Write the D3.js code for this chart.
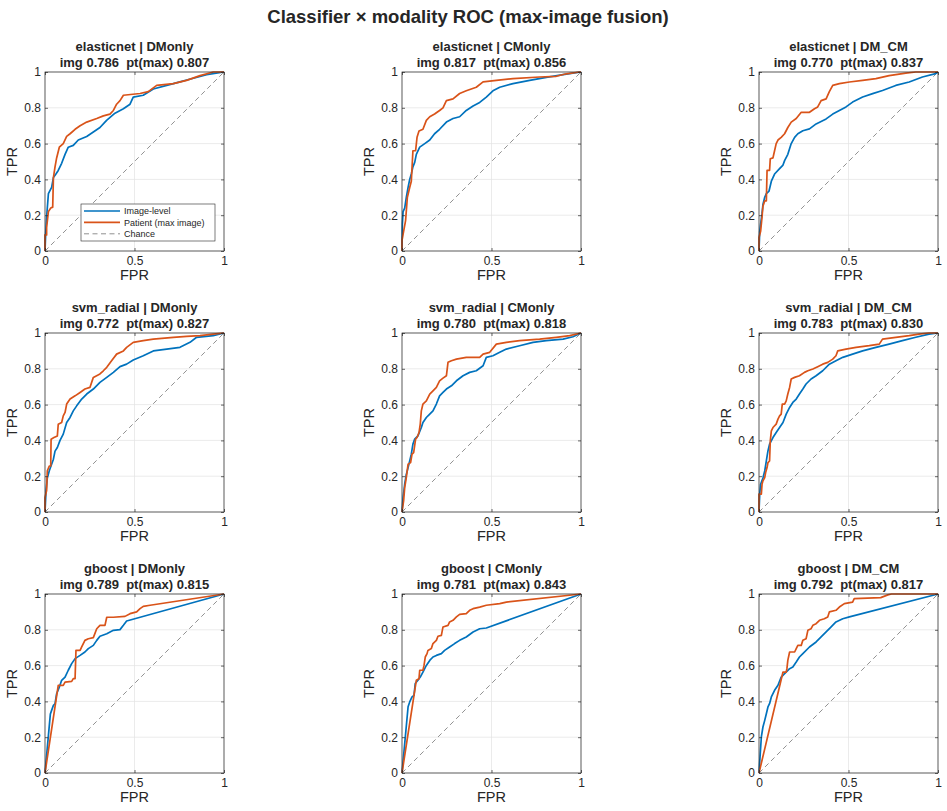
<!DOCTYPE html>
<html>
<head>
<meta charset="utf-8">
<script src="https://cdn.jsdelivr.net/npm/d3@7"></script>
<style>
  body { margin: 0; background: #fff; }
  text { font-family: "Liberation Sans", Arial, Helvetica, sans-serif; fill: #262626; }
</style>
</head>
<body>
<svg id="chart" width="947" height="811"></svg>
<script>
// ---- data ----
const classifiers = ["elasticnet", "svm_radial", "gboost"];
const modalities = ["DMonly", "CMonly", "DM_CM"];
const aucImg = [[0.786, 0.817, 0.770], [0.772, 0.780, 0.783], [0.789, 0.781, 0.792]];
const aucPt = [[0.807, 0.856, 0.837], [0.827, 0.818, 0.830], [0.815, 0.843, 0.817]];
const xTicks = [0, 0.5, 1];
const yTicks = [0, 0.2, 0.4, 0.6, 0.8, 1];
const legendLabels = ["Image-level", "Patient (max image)", "Chance"];

// ROC points [FPR, TPR]
const enDM_img = [[0,0],[0.004,0.1],[0.009,0.19],[0.019,0.32],[0.037,0.355],[0.047,0.41],[0.061,0.43],[0.074,0.45],[0.093,0.49],[0.112,0.54],[0.13,0.58],[0.158,0.59],[0.186,0.62],[0.233,0.64],[0.27,0.665],[0.307,0.69],[0.344,0.73],[0.391,0.77],[0.438,0.795],[0.475,0.82],[0.493,0.86],[0.549,0.87],[0.605,0.905],[0.68,0.925],[0.754,0.945],[0.829,0.965],[0.903,0.985],[1,1]];
const enDM_pt = [[0,0],[0,0.09],[0.009,0.09],[0.009,0.13],[0.019,0.22],[0.032,0.24],[0.043,0.245],[0.047,0.41],[0.056,0.47],[0.065,0.52],[0.08,0.58],[0.102,0.6],[0.121,0.64],[0.14,0.655],[0.168,0.68],[0.196,0.7],[0.233,0.72],[0.289,0.74],[0.326,0.755],[0.363,0.765],[0.382,0.785],[0.4,0.82],[0.419,0.84],[0.438,0.87],[0.531,0.88],[0.577,0.89],[0.624,0.925],[0.717,0.935],[0.791,0.953],[0.866,0.98],[0.94,1],[1,1]];
const enCM_img = [[0,0],[0.002,0.15],[0.006,0.22],[0.015,0.24],[0.024,0.3],[0.034,0.355],[0.043,0.4],[0.052,0.43],[0.061,0.47],[0.071,0.495],[0.08,0.54],[0.099,0.58],[0.127,0.6],[0.155,0.62],[0.182,0.655],[0.21,0.68],[0.248,0.72],[0.285,0.74],[0.322,0.75],[0.359,0.785],[0.397,0.81],[0.434,0.83],[0.471,0.86],[0.508,0.895],[0.546,0.915],[0.62,0.935],[0.713,0.953],[0.806,0.97],[0.9,0.985],[1,1]];
const enCM_pt = [[0,0],[0,0.06],[0.009,0.11],[0.02,0.17],[0.03,0.3],[0.043,0.355],[0.052,0.39],[0.061,0.56],[0.076,0.56],[0.084,0.635],[0.095,0.67],[0.117,0.68],[0.136,0.73],[0.155,0.75],[0.182,0.765],[0.21,0.785],[0.229,0.8],[0.248,0.84],[0.285,0.85],[0.322,0.88],[0.359,0.895],[0.415,0.915],[0.453,0.945],[0.527,0.953],[0.62,0.963],[0.769,0.972],[0.862,0.976],[0.918,0.99],[0.993,1],[1,1]];
const enDMCM_img = [[0,0],[0.004,0.11],[0.009,0.15],[0.017,0.21],[0.022,0.26],[0.032,0.3],[0.041,0.32],[0.056,0.335],[0.069,0.39],[0.078,0.41],[0.087,0.43],[0.115,0.46],[0.134,0.48],[0.143,0.505],[0.161,0.54],[0.18,0.6],[0.199,0.635],[0.217,0.655],[0.245,0.672],[0.282,0.682],[0.319,0.71],[0.375,0.738],[0.412,0.765],[0.449,0.785],[0.486,0.805],[0.523,0.832],[0.579,0.86],[0.635,0.879],[0.69,0.897],[0.764,0.925],[0.839,0.944],[0.913,0.972],[0.987,0.991],[1,1]];
const enDMCM_pt = [[0,0],[0,0.075],[0.009,0.11],[0.017,0.19],[0.022,0.25],[0.032,0.28],[0.041,0.28],[0.045,0.45],[0.059,0.45],[0.063,0.515],[0.078,0.52],[0.087,0.56],[0.096,0.6],[0.106,0.62],[0.124,0.635],[0.143,0.655],[0.161,0.69],[0.18,0.72],[0.208,0.74],[0.236,0.775],[0.282,0.775],[0.31,0.795],[0.328,0.805],[0.347,0.84],[0.375,0.85],[0.393,0.89],[0.412,0.925],[0.449,0.935],[0.505,0.944],[0.579,0.953],[0.653,0.963],[0.727,0.98],[0.82,0.994],[0.876,1],[1,1]];
const svDM_img = [[0,0],[0.006,0.12],[0.013,0.19],[0.024,0.23],[0.037,0.267],[0.047,0.295],[0.056,0.34],[0.069,0.36],[0.084,0.4],[0.102,0.435],[0.121,0.5],[0.14,0.528],[0.158,0.565],[0.177,0.593],[0.205,0.631],[0.233,0.659],[0.27,0.687],[0.307,0.724],[0.345,0.752],[0.382,0.78],[0.419,0.812],[0.456,0.826],[0.493,0.849],[0.549,0.873],[0.605,0.9],[0.68,0.91],[0.754,0.92],[0.81,0.948],[0.847,0.976],[0.94,0.985],[1,1]];
const svDM_pt = [[0,0],[0,0.08],[0.009,0.12],[0.013,0.23],[0.024,0.257],[0.032,0.257],[0.034,0.407],[0.05,0.416],[0.069,0.425],[0.074,0.49],[0.093,0.5],[0.102,0.537],[0.112,0.556],[0.121,0.603],[0.14,0.631],[0.168,0.649],[0.196,0.668],[0.223,0.687],[0.251,0.696],[0.27,0.752],[0.307,0.771],[0.326,0.789],[0.345,0.808],[0.372,0.845],[0.4,0.882],[0.438,0.9],[0.456,0.92],[0.493,0.948],[0.549,0.957],[0.605,0.966],[0.717,0.976],[0.791,0.981],[0.866,0.985],[0.94,0.994],[1,1]];
const svCM_img = [[0,0],[0.006,0.08],[0.015,0.155],[0.024,0.21],[0.034,0.248],[0.043,0.285],[0.052,0.323],[0.061,0.379],[0.071,0.407],[0.089,0.425],[0.108,0.472],[0.117,0.5],[0.136,0.528],[0.155,0.547],[0.173,0.565],[0.192,0.603],[0.21,0.649],[0.229,0.668],[0.248,0.687],[0.276,0.705],[0.304,0.733],[0.341,0.761],[0.378,0.78],[0.415,0.789],[0.453,0.817],[0.471,0.864],[0.508,0.873],[0.546,0.892],[0.583,0.91],[0.657,0.929],[0.732,0.948],[0.806,0.957],[0.9,0.966],[0.955,0.979],[1,1]];
const svCM_pt = [[0,0],[0.009,0.062],[0.015,0.136],[0.024,0.192],[0.034,0.267],[0.048,0.276],[0.056,0.323],[0.065,0.332],[0.076,0.407],[0.084,0.416],[0.095,0.444],[0.102,0.491],[0.108,0.565],[0.117,0.603],[0.136,0.621],[0.155,0.659],[0.173,0.677],[0.192,0.696],[0.21,0.733],[0.229,0.748],[0.248,0.761],[0.257,0.836],[0.276,0.845],[0.304,0.854],[0.359,0.864],[0.434,0.864],[0.453,0.882],[0.49,0.892],[0.527,0.938],[0.583,0.948],[0.657,0.957],[0.769,0.966],[0.862,0.976],[0.937,0.985],[1,1]];
const svDMCM_img = [[0,0],[0.004,0.1],[0.009,0.155],[0.022,0.19],[0.032,0.229],[0.041,0.285],[0.05,0.341],[0.059,0.379],[0.078,0.416],[0.096,0.444],[0.115,0.472],[0.134,0.5],[0.152,0.547],[0.171,0.584],[0.189,0.612],[0.208,0.631],[0.226,0.659],[0.245,0.687],[0.263,0.715],[0.291,0.743],[0.319,0.761],[0.356,0.789],[0.393,0.826],[0.43,0.845],[0.468,0.864],[0.523,0.882],[0.579,0.9],[0.653,0.92],[0.727,0.938],[0.801,0.957],[0.876,0.976],[0.95,0.994],[1,1]];
const svDMCM_pt = [[0,0],[0,0.1],[0.013,0.1],[0.017,0.155],[0.022,0.174],[0.032,0.192],[0.037,0.22],[0.045,0.248],[0.05,0.276],[0.059,0.285],[0.063,0.397],[0.069,0.453],[0.078,0.472],[0.096,0.491],[0.106,0.519],[0.115,0.537],[0.124,0.547],[0.13,0.603],[0.143,0.603],[0.152,0.621],[0.161,0.659],[0.171,0.696],[0.18,0.743],[0.199,0.752],[0.226,0.761],[0.254,0.78],[0.273,0.789],[0.301,0.799],[0.328,0.812],[0.356,0.826],[0.384,0.836],[0.412,0.854],[0.43,0.873],[0.44,0.9],[0.486,0.91],[0.542,0.92],[0.616,0.929],[0.672,0.938],[0.69,0.966],[0.764,0.976],[0.839,0.985],[0.894,0.994],[0.95,1],[1,1]];
const gbDM_img = [[0,0],[0.03,0.33],[0.037,0.35],[0.047,0.378],[0.056,0.387],[0.065,0.443],[0.08,0.48],[0.093,0.518],[0.112,0.536],[0.13,0.574],[0.149,0.611],[0.168,0.639],[0.196,0.657],[0.223,0.676],[0.242,0.695],[0.27,0.713],[0.289,0.741],[0.307,0.764],[0.345,0.778],[0.382,0.797],[0.419,0.801],[0.438,0.825],[0.456,0.849],[1,1]];
const gbDM_pt = [[0,0],[0.074,0.49],[0.102,0.49],[0.112,0.508],[0.149,0.512],[0.158,0.527],[0.168,0.527],[0.173,0.685],[0.196,0.685],[0.205,0.704],[0.223,0.741],[0.242,0.75],[0.27,0.756],[0.289,0.806],[0.307,0.825],[0.335,0.825],[0.345,0.87],[0.382,0.87],[0.447,0.875],[0.475,0.89],[0.512,0.9],[0.531,0.918],[0.549,0.931],[0.587,0.937],[1,1]];
const gbCM_img = [[0,0],[0.034,0.37],[0.043,0.397],[0.056,0.425],[0.067,0.434],[0.074,0.5],[0.089,0.518],[0.102,0.536],[0.117,0.564],[0.136,0.601],[0.155,0.629],[0.173,0.648],[0.192,0.657],[0.22,0.667],[0.238,0.685],[0.266,0.704],[0.294,0.723],[0.322,0.741],[0.359,0.76],[0.397,0.788],[0.434,0.806],[0.471,0.81],[1,1]];
const gbCM_pt = [[0,0],[0.08,0.518],[0.095,0.527],[0.099,0.574],[0.117,0.574],[0.123,0.601],[0.13,0.648],[0.14,0.667],[0.145,0.685],[0.164,0.695],[0.173,0.723],[0.192,0.741],[0.201,0.764],[0.22,0.769],[0.229,0.816],[0.257,0.825],[0.266,0.844],[0.285,0.853],[0.304,0.872],[0.322,0.886],[0.359,0.89],[0.378,0.909],[0.397,0.918],[0.434,0.927],[0.471,0.937],[0.546,0.946],[0.583,0.955],[1,1]];
const gbDMCM_img = [[0,0],[0.013,0.2],[0.022,0.257],[0.032,0.294],[0.041,0.331],[0.05,0.369],[0.059,0.387],[0.069,0.425],[0.087,0.462],[0.106,0.49],[0.124,0.536],[0.143,0.555],[0.171,0.583],[0.189,0.592],[0.208,0.62],[0.226,0.648],[0.245,0.667],[0.282,0.704],[0.319,0.732],[0.347,0.76],[0.375,0.788],[0.403,0.816],[0.43,0.844],[0.468,0.862],[0.505,0.872],[1,1]];
const gbDMCM_pt = [[0,0],[0.134,0.564],[0.152,0.564],[0.156,0.583],[0.161,0.629],[0.171,0.676],[0.199,0.676],[0.208,0.695],[0.217,0.713],[0.236,0.713],[0.245,0.741],[0.263,0.75],[0.273,0.797],[0.291,0.806],[0.301,0.825],[0.319,0.834],[0.338,0.853],[0.365,0.862],[0.384,0.872],[0.393,0.9],[0.43,0.909],[0.449,0.927],[0.477,0.946],[0.523,0.955],[0.532,0.974],[0.68,0.98],[0.72,0.995],[0.74,1],[1,1]];

const imgCurves = [[enDM_img, enCM_img, enDMCM_img], [svDM_img, svCM_img, svDMCM_img], [gbDM_img, gbCM_img, gbDMCM_img]];
const ptCurves = [[enDM_pt, enCM_pt, enDMCM_pt], [svDM_pt, svCM_pt, svDMCM_pt], [gbDM_pt, gbCM_pt, gbDMCM_pt]];

// ---- layout ----
const blue = "#0072BD";
const orange = "#D95319";
const axisColor = "#262626";
const size = 179;
const left0 = 45, top0 = 72, colStep = 357, rowStep = 261;

const svg = d3.select("#chart");

svg.append("text")
  .attr("x", 468)
  .attr("y", 22.5)
  .attr("text-anchor", "middle")
  .style("font-size", "18.5px")
  .style("font-weight", "bold")
  .text("Classifier \u00d7 modality ROC (max-image fusion)");

const x = d3.scaleLinear().domain([0, 1]).range([0, size]);
const y = d3.scaleLinear().domain([0, 1]).range([size, 0]);
const line = d3.line().x((d) => x(d[0])).y((d) => y(d[1]));
const fmt = d3.format("~g");

classifiers.forEach((clf, r) => {
  modalities.forEach((mod, c) => {
    const g = svg.append("g")
      .attr("transform", `translate(${left0 + c * colStep}, ${top0 + r * rowStep})`);

    // grid
    g.selectAll(".gx").data(xTicks).enter().append("line")
      .attr("x1", (d) => x(d)).attr("x2", (d) => x(d))
      .attr("y1", 0).attr("y2", size)
      .attr("stroke", "#e3e3e3").attr("stroke-width", 0.7);
    g.selectAll(".gy").data(yTicks).enter().append("line")
      .attr("x1", 0).attr("x2", size)
      .attr("y1", (d) => y(d)).attr("y2", (d) => y(d))
      .attr("stroke", "#e3e3e3").attr("stroke-width", 0.7);

    // chance line
    g.append("path")
      .attr("d", line([[0, 0], [1, 1]]))
      .attr("fill", "none")
      .attr("stroke", "#444")
      .attr("stroke-width", 0.6)
      .attr("stroke-dasharray", "5,3.5");

    // curves
    [[imgCurves[r][c], blue], [ptCurves[r][c], orange]].forEach(([pts, col]) => {
      g.append("path")
        .attr("d", line(pts))
        .attr("fill", "none")
        .attr("stroke", col)
        .attr("stroke-width", 1.7)
        .attr("stroke-linejoin", "round");
    });

    // axes (inward ticks, MATLAB style)
    const ax = (axis, tr, labels) => {
      const a = g.append("g").attr("transform", tr).call(axis);
      a.select(".domain").remove();
      a.selectAll(".tick line").attr("stroke", axisColor).attr("stroke-width", 0.7);
      a.selectAll(".tick text")
        .style("font-size", "12px")
        .style("font-family", '"Liberation Sans", Arial, sans-serif')
        .attr("fill", axisColor);
      if (!labels) a.selectAll(".tick text").remove();
    };
    ax(d3.axisBottom(x).tickValues(xTicks).tickSize(-3).tickSizeOuter(0).tickPadding(5).tickFormat(fmt), `translate(0,${size})`, true);
    ax(d3.axisLeft(y).tickValues(yTicks).tickSize(-3).tickSizeOuter(0).tickPadding(4).tickFormat(fmt), "translate(0,0)", true);
    ax(d3.axisTop(x).tickValues(xTicks).tickSize(-3).tickSizeOuter(0), "translate(0,0)", false);
    ax(d3.axisRight(y).tickValues(yTicks).tickSize(-3).tickSizeOuter(0), `translate(${size},0)`, false);

    g.append("rect")
      .attr("width", size).attr("height", size)
      .attr("fill", "none")
      .attr("stroke", axisColor)
      .attr("stroke-width", 0.7);

    // titles and labels
    g.append("text")
      .attr("x", size / 2).attr("y", -21.5)
      .attr("text-anchor", "middle")
      .style("font-size", "13px").style("font-weight", "bold")
      .text(`${clf} | ${mod}`);
    g.append("text")
      .attr("x", size / 2).attr("y", -5.5)
      .attr("text-anchor", "middle")
      .style("font-size", "13px").style("font-weight", "bold")
      .style("white-space", "pre")
      .text(`img ${aucImg[r][c].toFixed(3)}  pt(max) ${aucPt[r][c].toFixed(3)}`);
    g.append("text")
      .attr("x", size / 2).attr("y", size + 29)
      .attr("text-anchor", "middle")
      .style("font-size", "14.5px")
      .text("FPR");
    g.append("text")
      .attr("transform", `translate(-27.8, ${size / 2}) rotate(-90)`)
      .attr("text-anchor", "middle")
      .style("font-size", "14.5px")
      .text("TPR");

    // legend only in the first panel
    if (r === 0 && c === 0) {
      const lg = g.append("g").attr("transform", `translate(36, 132)`);
      lg.append("rect")
        .attr("width", 134).attr("height", 37)
        .attr("fill", "#fff")
        .attr("stroke", axisColor).attr("stroke-width", 0.6);
      const styles = [
        { color: blue, w: 1.7, dash: null },
        { color: orange, w: 1.7, dash: null },
        { color: "#444", w: 0.6, dash: "5,3.5" }
      ];
      const item = lg.selectAll(".item").data(legendLabels).enter().append("g")
        .attr("transform", (d, i) => `translate(0, ${7 + i * 11.4})`);
      item.append("line")
        .attr("x1", 3).attr("x2", 39)
        .attr("stroke", (d, i) => styles[i].color)
        .attr("stroke-width", (d, i) => styles[i].w)
        .attr("stroke-dasharray", (d, i) => styles[i].dash);
      item.append("text")
        .attr("x", 43).attr("dy", "0.35em")
        .style("font-size", "9px")
        .text((d) => d);
    }
  });
});
</script>
</body>
</html>
